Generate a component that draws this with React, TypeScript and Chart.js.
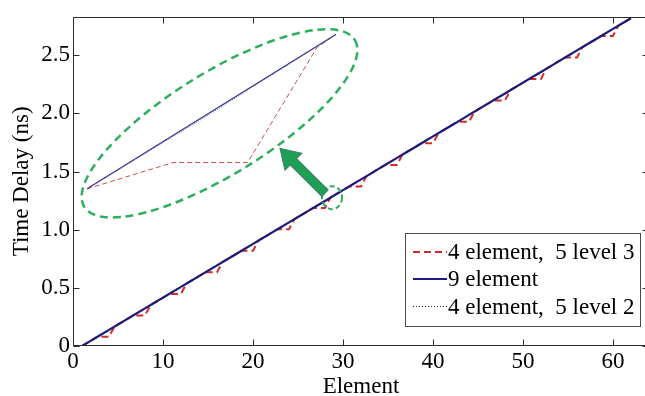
import React, { useEffect, useRef } from "react";
import { Chart, registerables } from "chart.js";

Chart.register(...registerables);

// ---------- data ----------
const elements = [
  1, 2, 3, 4, 5, 6, 7, 8, 9, 10, 11, 12, 13, 14, 15, 16, 17, 18, 19, 20, 21,
  22, 23, 24, 25, 26, 27, 28, 29, 30, 31, 32, 33, 34, 35, 36, 37, 38, 39, 40,
  41, 42, 43, 44, 45, 46, 47, 48, 49, 50, 51, 52, 53, 54, 55, 56, 57, 58, 59,
  60, 61, 62,
];

const nineElementDelay = [
  0, 0.046, 0.092, 0.139, 0.185, 0.231, 0.277, 0.323, 0.37, 0.416, 0.462,
  0.508, 0.554, 0.601, 0.647, 0.693, 0.739, 0.785, 0.832, 0.878, 0.924, 0.97,
  1.016, 1.063, 1.109, 1.155, 1.201, 1.247, 1.294, 1.34, 1.386, 1.432, 1.478,
  1.525, 1.571, 1.617, 1.663, 1.709, 1.756, 1.802, 1.848, 1.894, 1.94, 1.987,
  2.033, 2.079, 2.125, 2.171, 2.218, 2.264, 2.31, 2.356, 2.402, 2.449, 2.495,
  2.541, 2.587, 2.633, 2.68, 2.726, 2.772, 2.818,
];

const level2Delay = [
  0, 0.046, 0.092, 0.138, 0.184, 0.23, 0.276, 0.322, 0.369, 0.415, 0.461,
  0.507, 0.553, 0.6, 0.646, 0.692, 0.738, 0.784, 0.831, 0.877, 0.923, 0.969,
  1.015, 1.062, 1.108, 1.154, 1.2, 1.246, 1.293, 1.339, 1.385, 1.431, 1.477,
  1.524, 1.57, 1.616, 1.662, 1.708, 1.755, 1.801, 1.847, 1.893, 1.939, 1.986,
  2.032, 2.078, 2.124, 2.17, 2.217, 2.263, 2.309, 2.355, 2.401, 2.448, 2.494,
  2.54, 2.586, 2.632, 2.679, 2.725, 2.771, 2.818,
];

const level3Element = [
  1, 2.7, 4.0, 4.6, 6.7, 8.0, 8.6, 10.7, 12.0, 12.6, 14.7, 16.0, 16.6, 18.7,
  20.0, 20.6, 22.7, 24.0, 24.6, 26.7, 28.0, 28.6, 30.7, 32.0, 32.6, 34.7, 36.0,
  36.6, 38.7, 40.0, 40.6, 42.7, 44.0, 44.6, 46.7, 48.0, 48.6, 50.7, 52.0, 52.6,
  54.7, 56.0, 56.6, 58.7, 60.0, 60.6, 62,
];
const level3Delay = [
  0, 0.079, 0.079, 0.166, 0.263, 0.263, 0.351, 0.448, 0.448, 0.536, 0.633,
  0.633, 0.721, 0.818, 0.818, 0.906, 1.003, 1.003, 1.09, 1.187, 1.187, 1.275,
  1.372, 1.372, 1.46, 1.557, 1.557, 1.645, 1.742, 1.742, 1.83, 1.927, 1.927,
  2.014, 2.111, 2.111, 2.199, 2.296, 2.296, 2.384, 2.481, 2.481, 2.569, 2.666,
  2.666, 2.754, 2.818,
];

// magnified inset (drawn in the plot's own coordinates)
const insetBlueX = [1.56, 29.2];
const insetBlueY = [1.351, 2.677];
const insetDottedX = [1.56, 15.0, 29.2];
const insetDottedY = [1.351, 1.984, 2.677];
const insetRedX = [1.56, 11.1, 19.4, 27.1, 29.2];
const insetRedY = [1.351, 1.577, 1.577, 2.566, 2.677];

const xTicks = [0, 10, 20, 30, 40, 50, 60];
const yTicks = [0, 0.5, 1, 1.5, 2, 2.5];
const seriesLabels = ["4 element,  5 level 3", "9 element", "4 element,  5 level 2"];

const FONT = '"Liberation Serif", "Times New Roman", Times, serif';

const zip = (xs: number[], ys: number[]) => xs.map((x, i) => ({ x, y: ys[i] }));

const RED = "#d42b2b";
const BLUE = "#1a1a8a";
const DOT = "#222222";
const GREEN = "#2eae5e";

const framePlugin = {
  id: "frame",
  afterDatasetsDraw(chart: any) {
    const { ctx, scales } = chart;
    const xs = scales.x;
    const ys = scales.y;
    ctx.save();
    // ---- annotation: ellipse ----
    ctx.strokeStyle = GREEN;
    ctx.lineWidth = 2.5;
    ctx.setLineDash([8, 5]);
    ctx.beginPath();
    ctx.ellipse(
      xs.getPixelForValue(16.28),
      ys.getPixelForValue(1.914),
      159,
      51,
      (-31.7 * Math.PI) / 180,
      0,
      Math.PI * 2
    );
    ctx.stroke();
    // small circle
    ctx.lineWidth = 2;
    ctx.setLineDash([5, 3]);
    ctx.beginPath();
    ctx.ellipse(
      xs.getPixelForValue(28.78),
      ys.getPixelForValue(1.275),
      10,
      11.5,
      0,
      0,
      Math.PI * 2
    );
    ctx.stroke();
    ctx.setLineDash([]);
    // arrow
    const tx = xs.getPixelForValue(28.0);
    const ty = ys.getPixelForValue(1.313);
    const hx = xs.getPixelForValue(23.0);
    const hy = ys.getPixelForValue(1.699);
    const ang = Math.atan2(hy - ty, hx - tx);
    const len = Math.hypot(hx - tx, hy - ty);
    ctx.translate(tx, ty);
    ctx.rotate(ang);
    const sw = 4.5;
    const hw = 12;
    const hl = 19;
    ctx.beginPath();
    ctx.moveTo(0, -sw);
    ctx.lineTo(len - hl, -sw);
    ctx.lineTo(len - hl, -hw);
    ctx.lineTo(len, 0);
    ctx.lineTo(len - hl, hw);
    ctx.lineTo(len - hl, sw);
    ctx.lineTo(0, sw);
    ctx.closePath();
    ctx.fillStyle = "#1f9e55";
    ctx.fill();
    ctx.strokeStyle = "#3b7f6a";
    ctx.lineWidth = 1;
    ctx.stroke();
    ctx.restore();
  },
  afterDraw(chart: any) {
    const { ctx, chartArea: a, scales } = chart;
    const xs = scales.x;
    const ys = scales.y;
    ctx.save();
    ctx.strokeStyle = "#2b2b2b";
    ctx.lineWidth = 1;
    ctx.setLineDash([]);
    const L = Math.round(a.left) + 0.5;
    const R = Math.round(a.right) - 0.5;
    const T = Math.round(a.top) + 0.5;
    const B = Math.round(a.bottom) - 0.5;
    ctx.beginPath();
    ctx.moveTo(L, T);
    ctx.lineTo(R, T);
    ctx.lineTo(R, B);
    ctx.lineTo(L, B);
    ctx.closePath();
    ctx.stroke();
    const tl = 6;
    ctx.beginPath();
    xTicks.forEach((v) => {
      const p = Math.round(xs.getPixelForValue(v)) + 0.5;
      ctx.moveTo(p, B);
      ctx.lineTo(p, B - tl);
      ctx.moveTo(p, T);
      ctx.lineTo(p, T + tl);
    });
    yTicks.forEach((v) => {
      const p = Math.round(ys.getPixelForValue(v)) + 0.5;
      ctx.moveTo(L, p);
      ctx.lineTo(L + tl, p);
      ctx.moveTo(R, p);
      ctx.lineTo(R - tl, p);
    });
    ctx.stroke();

    // ---- legend ----
    const bx = 405;
    const by = 233;
    const bw = 235;
    const bh = 93;
    ctx.fillStyle = "#ffffff";
    ctx.fillRect(bx, by, bw, bh);
    ctx.strokeStyle = "#4a4a4a";
    ctx.strokeRect(bx + 0.5, by + 0.5, bw, bh);
    const rows = [252, 279, 306.5];
    const ds = chart.data.datasets;
    ctx.font = `23px ${FONT}`;
    ctx.textBaseline = "middle";
    ctx.textAlign = "left";
    for (let i = 0; i < 3; i++) {
      const d = ds[i];
      ctx.strokeStyle = d.borderColor;
      ctx.lineWidth = d.borderWidth;
      ctx.setLineDash(d.borderDash || []);
      ctx.beginPath();
      ctx.moveTo(413, rows[i]);
      ctx.lineTo(447, rows[i]);
      ctx.stroke();
      ctx.setLineDash([]);
      ctx.fillStyle = "#000";
      ctx.fillText(d.label, 448, rows[i] + 1);
    }
    ctx.restore();
  },
};

export default function App() {
  const ref = useRef<HTMLCanvasElement | null>(null);
  useEffect(() => {
    if (!ref.current) return;
    const line = (extra: any) => ({
      showLine: true,
      pointRadius: 0,
      fill: false,
      tension: 0,
      ...extra,
    });
    const chart = new Chart(ref.current, {
      type: "scatter",
      data: {
        datasets: [
          line({
            label: seriesLabels[0],
            data: zip(level3Element, level3Delay),
            borderColor: RED,
            borderWidth: 2,
            borderDash: [7, 4],
            order: 3,
          }),
          line({
            label: seriesLabels[1],
            data: zip(elements, nineElementDelay),
            borderColor: BLUE,
            borderWidth: 2.2,
            order: 2,
          }),
          line({
            label: seriesLabels[2],
            data: zip(elements, level2Delay),
            borderColor: DOT,
            borderWidth: 1,
            borderDash: [1, 2],
            order: 1,
          }),
          line({
            label: "inset-red",
            data: zip(insetRedX, insetRedY),
            borderColor: "#c9504f",
            borderWidth: 1,
            borderDash: [5, 3],
            order: 6,
          }),
          line({
            label: "inset-blue",
            data: zip(insetBlueX, insetBlueY),
            borderColor: "#33339c",
            borderWidth: 1.2,
            order: 5,
          }),
          line({
            label: "inset-dotted",
            data: zip(insetDottedX, insetDottedY),
            borderColor: "#555577",
            borderWidth: 1,
            borderDash: [1, 1.5],
            order: 4,
          }),
        ],
      },
      options: {
        animation: false,
        responsive: false,
        layout: { padding: { top: 14, right: 1, left: 0, bottom: 0 } },
        plugins: { legend: { display: false }, tooltip: { enabled: false } },
        scales: {
          x: {
            type: "linear",
            min: 0,
            max: 64,
            afterBuildTicks: (s: any) => {
              s.ticks = xTicks.map((v) => ({ value: v }));
            },
            afterFit: (s: any) => {
              s.height = 50;
            },
            grid: { display: false, drawTicks: false },
            border: { display: false },
            ticks: {
              font: { family: FONT, size: 23 },
              color: "#000",
              padding: 2,
              maxRotation: 0,
              autoSkip: false,
            },
            title: {
              display: true,
              text: "Element",
              font: { family: FONT, size: 23, lineHeight: 0.8 },
              color: "#000",
              padding: { top: 0, bottom: 0 },
            },
          },
          y: {
            type: "linear",
            min: 0,
            max: 2.83,
            afterBuildTicks: (s: any) => {
              s.ticks = yTicks.map((v) => ({ value: v }));
            },
            afterFit: (s: any) => {
              s.width = 73;
            },
            grid: { display: false, drawTicks: false },
            border: { display: false },
            ticks: {
              font: { family: FONT, size: 23 },
              color: "#000",
              padding: 3,
              autoSkip: false,
            },
            title: {
              display: true,
              text: "Time Delay (ns)",
              font: { family: FONT, size: 23, lineHeight: 1.2 },
              color: "#000",
              padding: { top: 8, bottom: 0 },
            },
          },
        },
      },
      plugins: [framePlugin],
    } as any);
    return () => chart.destroy();
  }, []);

  return (
    <div
      style={{
        position: "fixed",
        left: 0,
        top: 0,
        width: 645,
        height: 396,
        overflow: "hidden",
        background: "#fff",
      }}
    >
      <canvas
        ref={ref}
        width={650}
        height={396}
        style={{ display: "block", width: 650, height: 396 }}
      />
    </div>
  );
}
